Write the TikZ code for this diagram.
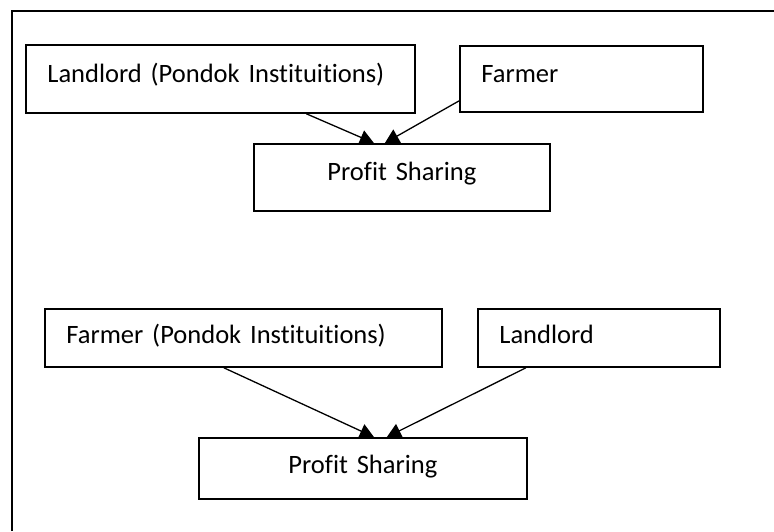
\documentclass[tikz,border=0pt]{standalone}
\usepackage{fontspec}
\setmainfont{Carlito}[Ligatures=NoCommon,WordSpace=0.8]
\usetikzlibrary{arrows.meta}
\tikzset{
  box/.style={draw,line width=1.8pt,anchor=north west,inner xsep=21.5pt,inner ysep=0pt,
    font=\fontsize{26.5}{30}\selectfont},
}
\begin{document}
\begin{tikzpicture}[x=1pt,y=-1pt,>={Triangle[length=14pt,width=15pt]},line width=1.3pt]
\useasboundingbox (0,0) rectangle (774,531);
% outer frame, only its top and left edges fall inside the page
\draw[line width=1.5pt](12,531)--(12,11)--(774,11);
% upper scheme
\node[box,text width=346pt,align=left,text height=38pt,text depth=30pt](landA) at (25,44) {Landlord (Pondok Instituitions)};
\node[box,text width=200pt,align=left,text height=37pt,text depth=29pt](farmA) at (459,45) {Farmer};
\node[box,text width=253pt,align=center,text height=37pt,text depth=30pt](shareA) at (253,143) {Profit Sharing};
\draw[->]([xshift=86pt]landA.south)--([xshift=-28pt]shareA.north);
\draw[->]([yshift=-22pt]farmA.west)--([xshift=-17pt]shareA.north);
% lower scheme
\node[box,text width=354pt,align=left,text height=35pt,text depth=23pt](farmB) at (44,308) {Farmer (Pondok Instituitions)};
\node[box,text width=199pt,align=left,text height=35pt,text depth=23pt](landB) at (477,308) {Landlord};
\node[box,text width=285pt,align=center,text height=36pt,text depth=25pt](shareB) at (198,437) {Profit Sharing};
\draw[->]([xshift=-19.5pt]farmB.south)--([xshift=11pt]shareB.north);
\draw[->]([xshift=-73pt]landB.south)--([xshift=24pt]shareB.north);
\end{tikzpicture}
\end{document}
